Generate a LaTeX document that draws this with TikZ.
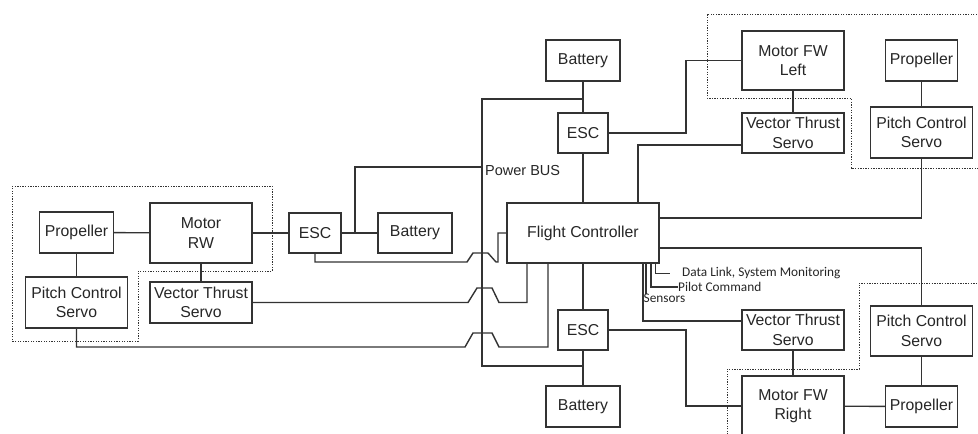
\documentclass[tikz,border=0pt]{standalone}
\usepackage{fontspec}
\setmainfont{Liberation Sans}
\newfontfamily\calfont{Carlito}
\definecolor{ln}{HTML}{333333}
\definecolor{txt}{HTML}{262626}
\begin{document}
\begin{tikzpicture}[x=1pt,y=-1pt,
  box/.style={draw=ln, line width=1.4pt, fill=white, inner sep=0pt, align=center,
    text=txt, font=\fontsize{15.8}{19.5}\selectfont},
  wire/.style={draw=ln, line width=1.4pt},
  grp/.style={draw=ln, line width=0.9pt, dash pattern=on 1.3pt off 1.3pt},
  note/.style={inner sep=0pt, text=txt, font=\calfont\fontsize{13.3}{15}\selectfont},
  buslbl/.style={inner sep=0pt, text=txt, font=\fontsize{14.5}{16}\selectfont}]
\fill[white] (0,0) rectangle (978,434);
\useasboundingbox (0,0) rectangle (978,434);
\clip (0,0) rectangle (978,434);

% dotted groups
\draw[grp] (12,186) -- (272,186) -- (272,271) -- (138,271) -- (138,341) -- (12,341) -- cycle;
\draw[grp] (990,14) -- (707,14) -- (707,98) -- (851,98) -- (851,168) -- (990,168);
\draw[grp] (727,445) -- (727,369) -- (859,369) -- (859,283) -- (990,283);

% left group
\node[box, minimum width=74pt, minimum height=41pt] (propL) at (76.5,232.5) {Propeller};
\node[box, minimum width=102pt, minimum height=60pt] (motRW) at (201,233) {Motor\\RW};
\node[box, minimum width=52pt, minimum height=40pt] (escL) at (315,233) {ESC};
\node[box, minimum width=74pt, minimum height=40pt] (batL) at (415,233) {Battery};
\node[box, minimum width=102pt, minimum height=51pt] (pitchL) at (76.5,302.5) {Pitch Control\\Servo};
\node[box, minimum width=102pt, minimum height=41pt] (vtsL) at (201,302.5) {Vector Thrust\\Servo};

% center column
\node[box, minimum width=74pt, minimum height=41pt] (batT) at (583,60.5) {Battery};
\node[box, minimum width=50pt, minimum height=40pt] (escT) at (583,133) {ESC};
\node[box, minimum width=152pt, minimum height=60pt] (fc) at (583,233) {Flight Controller};
\node[box, minimum width=50pt, minimum height=40pt] (escB) at (583,330) {ESC};
\node[box, minimum width=74pt, minimum height=41pt] (batB) at (583,406.5) {Battery};

% right upper
\node[box, minimum width=102pt, minimum height=59pt] (motFL) at (793,60.5) {Motor FW\\Left};
\node[box, minimum width=102pt, minimum height=40pt] (vtsT) at (793,133) {Vector Thrust\\Servo};
\node[box, minimum width=72pt, minimum height=41pt] (propT) at (921.5,60.5) {Propeller};
\node[box, minimum width=102pt, minimum height=51pt] (pitchT) at (921.5,132.5) {Pitch Control\\Servo};

% right lower
\node[box, minimum width=102pt, minimum height=40pt] (vtsB) at (793,330) {Vector Thrust\\Servo};
\node[box, minimum width=102pt, minimum height=50pt] (pitchB) at (921.5,331) {Pitch Control\\Servo};
\node[box, minimum width=102pt, minimum height=60pt] (motFR) at (793,406) {Motor FW\\Right};
\node[box, minimum width=72pt, minimum height=41pt] (propB) at (921.5,406.5) {Propeller};

% left group wiring
\draw[wire] (propL) -- (motRW);
\draw[wire] (motRW) -- (escL);
\draw[wire] (escL) -- (batL);
\draw[wire] (propL) -- (pitchL);
\draw[wire] (motRW) -- (vtsL);

% power bus
\draw[wire] (batT) -- (escT);
\draw[wire] (escB) -- (batB);
\draw[wire] (batT.south |- 0,99) -- (482,99) -- (482,366) -- (batB.north |- 0,366);
\draw[wire] (escL.east -| 355,0) -- (355,167) -- (482,167);
\node[buslbl, anchor=west] (buslabel) at (485,170.5) {Power BUS};

% crossings from left side to flight controller
\draw[wire] (escL.south) -- (315,262) -- (467,262) -- (473,253) -- (488,253) -- (496,262) -- (498,262) |- (fc.west);
\draw[wire] (vtsL.east) -- (468,302.5) -- (477,288) -- (492,288) -- (499,302.5) -| (fc.south -| 527,0);
\draw[wire] (pitchL.south) -- (76.5,347) -- (465,347) -- (473,333) -- (492,333) -- (499,347) -| (fc.south -| 548,0);

% center
\draw[wire] (escT) -- (fc);
\draw[wire] (fc) -- (escB);

% upper right wiring
\draw[wire] (escT.east) -| (686,60.5) -- (motFL.west);
\draw[wire] (motFL) -- (vtsT);
\draw[wire] (propT) -- (pitchT);
\draw[wire] (vtsT.west |- 0,145) -| (fc.north -| 638,0);
\draw[wire] (pitchT.south) |- (fc.east |- 0,218);

% lower right wiring
\draw[wire] (fc.east |- 0,248) -| (pitchB.north);
\draw[wire] (pitchB) -- (propB);
\draw[wire] (vtsB) -- (motFR);
\draw[wire] (motFR) -- (propB);
\draw[wire] (escB.east) -| (686,406) -- (motFR.west);
\draw[wire] (fc.south -| 643,0) |- (vtsB.west |- 0,321);

% signal annotations
\coordinate (sensEnd) at (646,294);
\draw[wire] (fc.south -| 646,0) -- (sensEnd);
\node[note, anchor=north west] (sens) at (643.5,293.5) {Sensors};
\node[note, anchor=west] (pilot) at (678,287) {Pilot Command};
\node[note, anchor=west] (dlink) at (682,273.5) {Data Link, System Monitoring};
\draw[wire] (fc.south -| 651,0) |- (pilot.west);
\draw[wire] (fc.south -| 655.5,0) |- ([xshift=-12pt]dlink.west);
\end{tikzpicture}
\end{document}
